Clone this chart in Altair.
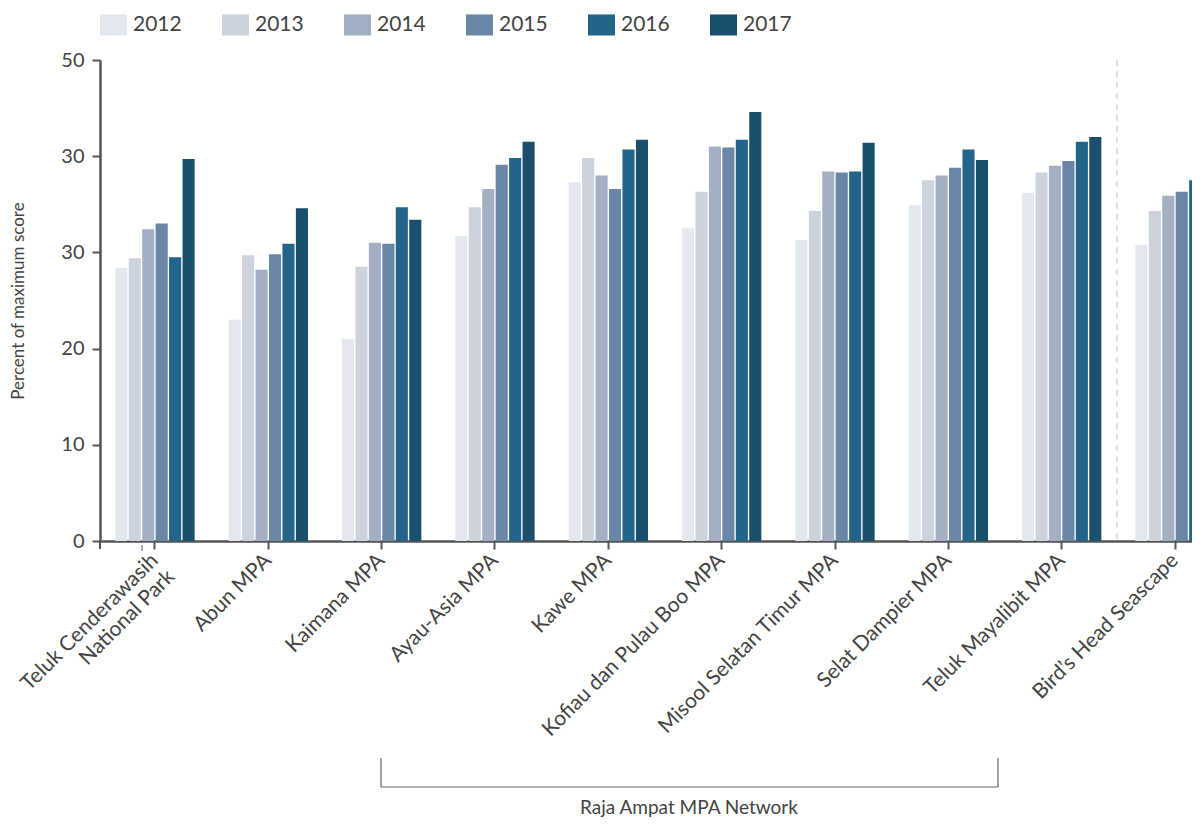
import altair as alt
import pandas as pd

sites = [
    "Teluk Cenderawasih National Park", "Abun MPA", "Kaimana MPA", "Ayau-Asia MPA",
    "Kawe MPA", "Kofiau dan Pulau Boo MPA", "Misool Selatan Timur MPA",
    "Selat Dampier MPA", "Teluk Mayalibit MPA", "Bird’s Head Seascape",
]
years = ["2012", "2013", "2014", "2015", "2016", "2017"]
colors = ["#e3e7ef", "#ccd3df", "#a3afc3", "#6886a5", "#21658b", "#1a4f6e"]

v2012 = [28.4, 23.0, 21.0, 31.7, 37.3, 32.5, 31.3, 34.9, 36.2, 30.8]
v2013 = [29.4, 29.7, 28.5, 34.7, 39.8, 36.3, 34.3, 37.5, 38.3, 34.3]
v2014 = [32.4, 28.2, 31.0, 36.6, 38.0, 41.0, 38.4, 38.0, 39.0, 35.9]
v2015 = [33.0, 29.8, 30.9, 39.1, 36.6, 40.9, 38.3, 38.8, 39.5, 36.3]
v2016 = [29.5, 30.9, 34.7, 39.8, 40.7, 41.7, 38.4, 40.7, 41.5, 37.5]
v2017 = [39.7, 34.6, 33.4, 41.5, 41.7, 44.6, 41.4, 39.6, 42.0, 38.2]

series = [v2012, v2013, v2014, v2015, v2016, v2017]
rows = []
for y, vals in zip(years, series):
    for s, v in zip(sites, vals):
        rows.append({"site": s, "year": y, "value": v})
df = pd.DataFrame(rows)

FONT = "Lato"
TXT = "#444444"
AX = "#555555"

bars = alt.Chart(df).mark_bar().encode(
    x=alt.X("site:N", sort=sites,
            scale=alt.Scale(paddingInner=0.3, paddingOuter=0.135, range=[0, 1130]),
            axis=alt.Axis(title=None, labelAngle=-45, labelFontSize=21, labelColor=TXT,
                          labelFont=FONT, labelPadding=8, tickSize=8, tickWidth=2,
                          tickColor=AX, domainColor=AX, domainWidth=2.5, labelLimit=1000,
                          labelAlign="right", labelBaseline="middle",
                          labelExpr="datum.label == 'Teluk Cenderawasih National Park' ? ['Teluk Cenderawasih', 'National Park'] : datum.label")),
    xOffset=alt.XOffset("year:N", sort=years, scale=alt.Scale(paddingInner=0.1)),
    y=alt.Y("value:Q", scale=alt.Scale(domain=[0, 50], nice=False),
            axis=alt.Axis(title="Percent of maximum score", values=[0, 10, 20, 30, 40, 50],
                          labelExpr="datum.value == 40 ? '30' : datum.label",
                          titleFontSize=17, titleFont=FONT, titleFontWeight="normal",
                          titleColor=TXT, titlePadding=33,
                          labelFontSize=20, labelFont=FONT, labelColor=TXT, labelPadding=8,
                          tickSize=8, tickWidth=2, tickColor=AX, domainColor=AX,
                          domainWidth=2.5, grid=False)),
    color=alt.Color("year:N", sort=years, scale=alt.Scale(domain=years, range=colors),
                    legend=alt.Legend(title=None, orient="top", direction="horizontal",
                                      symbolType="M-1,-0.78H1V0.78H-1Z", symbolSize=729,
                                      symbolStrokeWidth=0, labelFontSize=21, labelFont=FONT,
                                      labelColor=TXT, labelOffset=6, columnPadding=40,
                                      offset=24, padding=0)),
)

one = pd.DataFrame({"k": [0]})
divider = alt.Chart(one).mark_rule(
    color="#d6d6d6", strokeDash=[6, 5], strokeWidth=1.5
).encode(x=alt.value(1017), y=alt.value(0), y2=alt.value(481))

corner = alt.Chart(one).mark_rule(color=AX, strokeWidth=2).encode(
    x=alt.value(0), y=alt.value(481), y2=alt.value(489))
stray = alt.Chart(one).mark_rule(color=AX, strokeWidth=1).encode(
    x=alt.value(42), y=alt.value(485), y2=alt.value(491))

bracket_h = alt.Chart(one).mark_rule(color="#666666", strokeWidth=1.2).encode(
    x=alt.value(281), x2=alt.value(898), y=alt.value(727))
bracket_l = alt.Chart(one).mark_rule(color="#666666", strokeWidth=1.2).encode(
    x=alt.value(281), y=alt.value(698), y2=alt.value(727))
bracket_r = alt.Chart(one).mark_rule(color="#666666", strokeWidth=1.2).encode(
    x=alt.value(898), y=alt.value(698), y2=alt.value(727))
bracket_t = alt.Chart(pd.DataFrame({"t": ["Raja Ampat MPA Network"]})).mark_text(
    fontSize=19, font=FONT, color=TXT, baseline="middle", align="center"
).encode(text="t:N", x=alt.value(589), y=alt.value(748))

chart = alt.layer(bars, divider, corner, stray, bracket_h, bracket_l, bracket_r, bracket_t).properties(
    width=1092, height=481,
    autosize=alt.AutoSizeParams(type="none"),
    padding={"left": 92, "top": 52, "right": 0, "bottom": 278},
).configure_view(strokeWidth=0)

chart.save("out.html", embed_options={"renderer": "svg", "actions": False})
